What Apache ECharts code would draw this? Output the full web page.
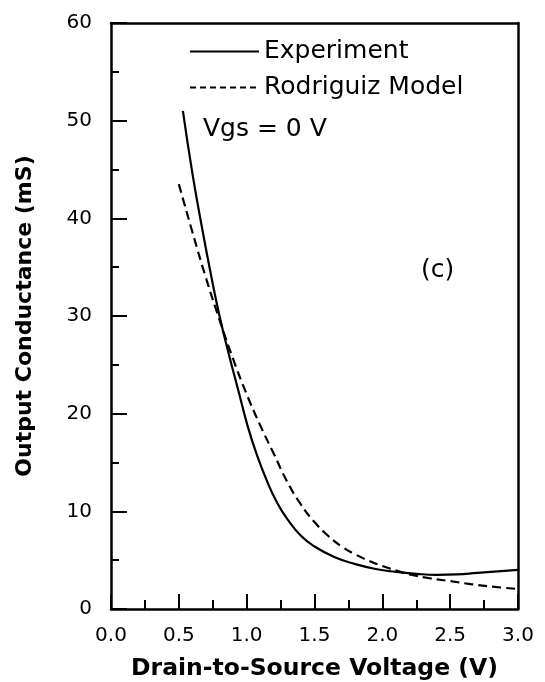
<!DOCTYPE html>
<html>
<head>
<meta charset="utf-8">
<script src="https://cdn.jsdelivr.net/npm/echarts@6/dist/echarts.min.js"></script>
<style>html,body{margin:0;padding:0;background:#fff}#c{width:545px;height:682px}</style>
</head>
<body>
<div id="c"></div>
<script>
const seriesNames = ['Experiment', 'Rodriguiz Model'];
const xTitle = 'Drain-to-Source Voltage (V)';
const yTitle = 'Output Conductance (mS)';
const annotation1 = 'Vgs = 0 V';
const annotation2 = '(c)';

const expX = [0.53, 0.60, 0.67, 0.74, 0.80, 0.87, 0.94, 1.01, 1.08, 1.15, 1.22, 1.30, 1.40, 1.50, 1.65, 1.80, 1.95, 2.10, 2.25, 2.40, 2.55, 2.70, 2.85, 3.00];
const expY = [51.0, 44.6, 39.1, 34.0, 30.0, 26.0, 22.3, 18.6, 15.6, 13.1, 11.0, 9.2, 7.5, 6.4, 5.3, 4.6, 4.1, 3.8, 3.6, 3.5, 3.55, 3.7, 3.85, 4.0];

const modX = [0.50, 0.60, 0.70, 0.80, 0.90, 1.00, 1.10, 1.20, 1.30, 1.40, 1.50, 1.60, 1.70, 1.80, 1.90, 2.00, 2.10, 2.20, 2.35, 2.50, 2.65, 2.80, 3.00];
const modY = [43.5, 38.6, 33.9, 29.6, 25.6, 22.0, 18.8, 15.9, 13.0, 10.7, 8.9, 7.5, 6.4, 5.6, 4.95, 4.4, 3.95, 3.55, 3.15, 2.85, 2.55, 2.3, 2.05];

const FONT = 'DejaVu Sans';
const chart = echarts.init(document.getElementById('c'), null, {renderer: 'canvas'});
const pair = (xs, ys) => xs.map((x, i) => [x, ys[i]]);

chart.setOption({
  backgroundColor: '#fff',
  animation: false,
  grid: {left: 111, right: 27, top: 23, bottom: 73, containLabel: false, outerBoundsMode: 'none'},
  legend: {
    orient: 'vertical', left: 184, top: 34, itemWidth: 69, itemHeight: 14, itemGap: 11,
    textStyle: {fontFamily: FONT, fontSize: 25, color: '#000'},
    data: [
      {name: seriesNames[0], itemStyle: {opacity: 0}, lineStyle: {type: 'solid', width: 2, color: '#000'}},
      {name: seriesNames[1], itemStyle: {opacity: 0}, lineStyle: {type: [6, 4], width: 2, color: '#000'}}
    ]
  },
  xAxis: [{
    type: 'value', min: 0, max: 3, interval: 0.5,
    name: xTitle, nameLocation: 'middle', nameGap: 48,
    nameTextStyle: {fontFamily: FONT, fontSize: 23.5, fontWeight: 'bold', color: '#000'},
    axisLine: {show: true, onZero: false, lineStyle: {color: '#000', width: 2.5}},
    axisTick: {show: true, inside: true, length: 15, lineStyle: {color: '#000', width: 2}},
    minorTick: {show: true, splitNumber: 2, length: 9, lineStyle: {color: '#000', width: 2}},
    splitLine: {show: false},
    axisLabel: {fontFamily: FONT, fontSize: 20, color: '#000', margin: 17, formatter: v => v.toFixed(1)}
  }, {
    type: 'value', min: 0, max: 3, position: 'top',
    axisLine: {show: true, onZero: false, lineStyle: {color: '#000', width: 2.5}},
    axisTick: {show: false}, axisLabel: {show: false}, splitLine: {show: false}
  }],
  yAxis: [{
    type: 'value', min: 0, max: 60, interval: 10,
    name: yTitle, nameLocation: 'middle', nameGap: 75,
    nameTextStyle: {fontFamily: FONT, fontSize: 22, fontWeight: 'bold', color: '#000'},
    axisLine: {show: true, onZero: false, lineStyle: {color: '#000', width: 2.5}},
    axisTick: {show: true, inside: true, length: 16, lineStyle: {color: '#000', width: 2}},
    minorTick: {show: true, splitNumber: 2, length: 8, lineStyle: {color: '#000', width: 2}},
    splitLine: {show: false},
    axisLabel: {fontFamily: FONT, fontSize: 20, color: '#000', margin: 19}
  }, {
    type: 'value', min: 0, max: 60, position: 'right',
    axisLine: {show: true, onZero: false, lineStyle: {color: '#000', width: 2.5}},
    axisTick: {show: false}, axisLabel: {show: false}, splitLine: {show: false}
  }],
  series: [{
    name: seriesNames[0], type: 'line', data: pair(expX, expY), smooth: 0.5,
    showSymbol: false, symbol: 'none', lineStyle: {color: '#000', width: 2.2, type: 'solid'}, itemStyle: {color: '#000'}
  }, {
    name: seriesNames[1], type: 'line', data: pair(modX, modY), smooth: 0.5,
    showSymbol: false, symbol: 'none', lineStyle: {color: '#000', width: 2.2, type: [9, 5]}, itemStyle: {color: '#000'}
  }],
  graphic: [
    {type: 'text', left: 203, top: 117, style: {text: annotation1, font: '25px "DejaVu Sans"', fill: '#000'}},
    {type: 'text', left: 421, top: 258, style: {text: annotation2, font: '25px "DejaVu Sans"', fill: '#000'}}
  ]
});
</script>
</body>
</html>
